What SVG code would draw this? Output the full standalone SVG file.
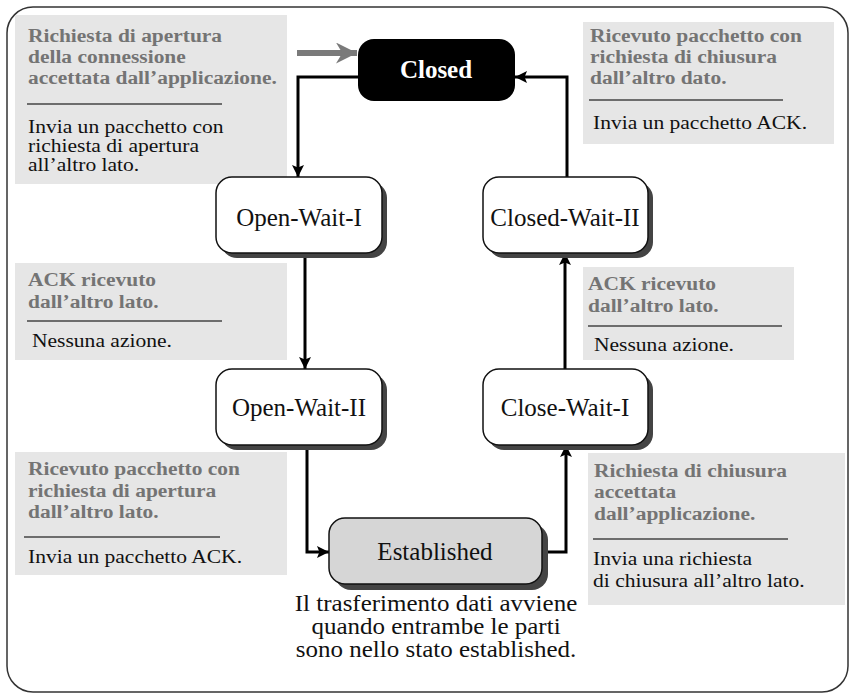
<svg xmlns="http://www.w3.org/2000/svg" width="855" height="699" viewBox="0 0 855 699">
<style>
.frame{fill:#fff;stroke:#333;stroke-width:1.5}
.note{fill:#e6e6e6}
.cond{font-family:"Liberation Serif",serif;font-weight:bold;font-size:19.5px;fill:#747474}
.act{font-family:"Liberation Serif",serif;font-size:19px;fill:#111}
.sep{stroke:#444;stroke-width:1.3}
.state{fill:#fff;stroke:#111;stroke-width:1.5}
.shadow{fill:#444}
.lbl{font-family:"Liberation Serif",serif;font-size:25px;fill:#111;text-anchor:middle}
.conn{fill:none;stroke:#000;stroke-width:3}
.cap{font-family:"Liberation Serif",serif;font-size:23px;fill:#111;text-anchor:middle}
</style>
<defs>
<marker id="ah" viewBox="0 0 10 10" refX="10" refY="5" markerWidth="4" markerHeight="4" orient="auto" markerUnits="strokeWidth">
<path d="M0,0 L10,5 L0,10 L2,5 z" fill="#000"/>
</marker>
<marker id="gah" viewBox="0 0 10 10" refX="10" refY="5" markerWidth="3.5" markerHeight="3.5" orient="auto" markerUnits="strokeWidth">
<path d="M0,0 L10,5 L0,10 L3,5 z" fill="#7a7a7a"/>
</marker>
</defs>
<rect class="frame" x="7" y="7" width="841" height="685" rx="26"/>

<g id="note-open-request">
<rect class="note" x="15" y="15" width="272" height="169"/>
<text class="cond" transform="translate(28 42) scale(1.1 1)">Richiesta di apertura</text>
<text class="cond" transform="translate(28 63) scale(1.1 1)">della connessione</text>
<text class="cond" transform="translate(28 84) scale(1.1 1)">accettata dall’applicazione.</text>
<line class="sep" x1="27" y1="104" x2="222" y2="104"/>
<text class="act" transform="translate(28 133) scale(1.134 1)">Invia un pacchetto con</text>
<text class="act" transform="translate(28 152) scale(1.134 1)">richiesta di apertura</text>
<text class="act" transform="translate(28 171) scale(1.134 1)">all’altro lato.</text>
</g>

<g id="note-close-received">
<rect class="note" x="583" y="22" width="251" height="122"/>
<text class="cond" transform="translate(590 42) scale(1.1 1)">Ricevuto pacchetto con</text>
<text class="cond" transform="translate(590 63) scale(1.1 1)">richiesta di chiusura</text>
<text class="cond" transform="translate(590 84) scale(1.1 1)">dall’altro dato.</text>
<line class="sep" x1="589" y1="100" x2="783" y2="100"/>
<text class="act" transform="translate(593 129) scale(1.134 1)">Invia un pacchetto ACK.</text>
</g>

<g id="note-ack-left">
<rect class="note" x="15" y="263" width="272" height="97"/>
<text class="cond" transform="translate(28 286) scale(1.1 1)">ACK ricevuto</text>
<text class="cond" transform="translate(28 308) scale(1.1 1)">dall’altro lato.</text>
<line class="sep" x1="27" y1="321" x2="222" y2="321"/>
<text class="act" transform="translate(32 347) scale(1.134 1)">Nessuna azione.</text>
</g>

<g id="note-ack-right">
<rect class="note" x="583" y="267" width="211" height="93"/>
<text class="cond" transform="translate(588 290) scale(1.1 1)">ACK ricevuto</text>
<text class="cond" transform="translate(588 312) scale(1.1 1)">dall’altro lato.</text>
<line class="sep" x1="588" y1="326" x2="782" y2="326"/>
<text class="act" transform="translate(594 351) scale(1.134 1)">Nessuna azione.</text>
</g>

<g id="note-open-received">
<rect class="note" x="15" y="452" width="272" height="123"/>
<text class="cond" transform="translate(28 475) scale(1.1 1)">Ricevuto pacchetto con</text>
<text class="cond" transform="translate(28 497) scale(1.1 1)">richiesta di apertura</text>
<text class="cond" transform="translate(28 518) scale(1.1 1)">dall’altro lato.</text>
<line class="sep" x1="24" y1="537" x2="220" y2="537"/>
<text class="act" transform="translate(28 563) scale(1.134 1)">Invia un pacchetto ACK.</text>
</g>

<g id="note-close-request">
<rect class="note" x="588" y="453" width="257" height="152"/>
<text class="cond" transform="translate(594 477) scale(1.1 1)">Richiesta di chiusura</text>
<text class="cond" transform="translate(594 498) scale(1.1 1)">accettata</text>
<text class="cond" transform="translate(594 520) scale(1.1 1)">dall’applicazione.</text>
<line class="sep" x1="593" y1="539" x2="788" y2="539"/>
<text class="act" transform="translate(593 565) scale(1.134 1)">Invia una richiesta</text>
<text class="act" transform="translate(593 587) scale(1.134 1)">di chiusura all’altro lato.</text>
</g>

<g id="connectors">
<line x1="297" y1="53" x2="357" y2="53" stroke="#7a7a7a" stroke-width="6" marker-end="url(#gah)"/>
<polyline class="conn" points="358,77 298,77 298,177" marker-end="url(#ah)"/>
<line class="conn" x1="305" y1="253" x2="305" y2="369" marker-end="url(#ah)"/>
<polyline class="conn" points="307,445 307,552 329,552" marker-end="url(#ah)"/>
<polyline class="conn" points="542,552 566,552 566,445" marker-end="url(#ah)"/>
<line class="conn" x1="565" y1="369" x2="565" y2="253" marker-end="url(#ah)"/>
<polyline class="conn" points="567,177 567,77 515,77" marker-end="url(#ah)"/>
</g>

<g id="node-closed">
<rect x="358" y="39" width="157" height="62" rx="16" fill="#000"/>
<text class="lbl" x="436" y="78" font-weight="bold" style="fill:#fff">Closed</text>
</g>

<g id="node-open-wait-i">
<rect class="shadow" x="221" y="182" width="166" height="76" rx="16"/>
<rect class="state" x="216" y="177" width="166" height="76" rx="16"/>
<text class="lbl" x="299" y="226">Open-Wait-I</text>
</g>

<g id="node-closed-wait-ii">
<rect class="shadow" x="488" y="182" width="165" height="76" rx="16"/>
<rect class="state" x="483" y="177" width="165" height="76" rx="16"/>
<text class="lbl" x="565" y="226">Closed-Wait-II</text>
</g>

<g id="node-open-wait-ii">
<rect class="shadow" x="221" y="374" width="166" height="76" rx="16"/>
<rect class="state" x="216" y="369" width="166" height="76" rx="16"/>
<text class="lbl" x="299" y="416">Open-Wait-II</text>
</g>

<g id="node-close-wait-i">
<rect class="shadow" x="488" y="374" width="165" height="76" rx="16"/>
<rect class="state" x="483" y="369" width="165" height="76" rx="16"/>
<text class="lbl" x="565" y="416">Close-Wait-I</text>
</g>

<g id="node-established">
<rect class="shadow" x="335" y="524" width="213" height="66" rx="16"/>
<rect class="state" x="329" y="518" width="213" height="66" rx="16" style="fill:#d6d6d6"/>
<text class="lbl" x="435" y="560">Established</text>
</g>

<g id="caption">
<text class="cap" transform="translate(436 611) scale(1.087 1)">Il trasferimento dati avviene</text>
<text class="cap" transform="translate(436 634) scale(1.087 1)">quando entrambe le parti</text>
<text class="cap" transform="translate(436 657) scale(1.087 1)">sono nello stato established.</text>
</g>
</svg>
